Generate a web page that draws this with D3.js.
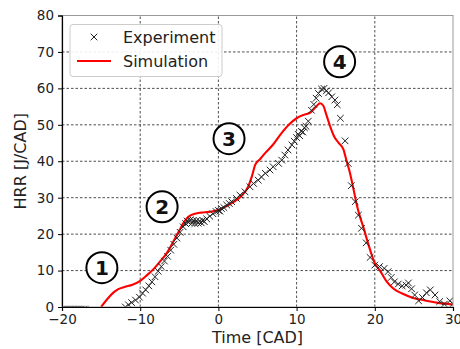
<!DOCTYPE html>
<html>
<head>
<meta charset="utf-8">
<script src="https://cdn.jsdelivr.net/npm/d3@7"></script>
<style>
  html, body { margin: 0; padding: 0; background: #fff; }
  svg { display: block; font-family: "DejaVu Sans", sans-serif; }
</style>
</head>
<body>
<svg id="chart" width="460" height="349"></svg>
<script>
// simulated HRR [CAD, J/CAD]
const simulation = [
  [-15, 0], [-14.2, 2.2], [-13.4, 4.0], [-12.8, 4.9], [-12, 5.5], [-11, 6.1], [-10, 7.2],
  [-9.2, 8.6], [-8.3, 10.4], [-7.5, 12.4], [-6.6, 14.8], [-5.8, 17.8], [-5, 21], [-4.4, 23.3],
  [-3.8, 24.8], [-3, 25.6], [-2.2, 25.9], [-1.2, 26.1], [0, 26.6], [1, 27.6], [2, 28.9],
  [3, 30.6], [3.8, 33], [4.3, 36], [4.7, 39], [5.3, 40.5], [6, 42.3], [7, 44.6], [8, 47.5],
  [9, 50], [10, 51.8], [11, 52.8], [11.8, 53.4], [12.5, 55], [13, 55.9], [13.4, 55.3],
  [13.8, 52.8], [14.3, 49.5], [14.8, 46.8], [15.4, 45], [16, 43.2], [16.4, 40], [16.8, 37],
  [17.3, 32.1], [17.7, 28], [18.1, 24.8], [18.6, 21.5], [19, 18.5], [19.5, 15], [20, 12],
  [20.6, 10.2], [21.5, 7], [22.4, 5], [23.5, 3.7], [24.9, 2.5], [26.2, 1.9], [27.9, 1.2], [30, 0.7]
];

// measured HRR
const experiment = [
  [-20, -0.6], [-19.8, -0.6], [-19.6, -0.6], [-19.4, -0.6], [-19.2, -0.6], [-19, -0.6], [-18.8, -0.6],
  [-18.6, -0.6], [-18.4, -0.6], [-18.2, -0.6], [-18, -0.6], [-17.8, -0.6], [-17.6, -0.6], [-17.4, -0.6],
  [-17.2, -0.6], [-17, -0.6],
  [-11.9, 0], [-11.5, 0.6], [-11.1, 1.2], [-10.6, 1.9], [-10.1, 2.7], [-9.7, 3.8], [-9.3, 4.7],
  [-8.9, 5.8], [-8.5, 6.9], [-8.1, 8.3], [-7.7, 9.8], [-7.3, 11.1], [-6.9, 12.6], [-6.5, 13.9],
  [-6.1, 15.6], [-5.7, 17.2], [-5.3, 18.9], [-4.9, 20.5], [-4.5, 22], [-4.2, 22.9],
  [-4.0, 23.6], [-3.8, 23.2], [-3.6, 23.9], [-3.4, 23.0], [-3.2, 23.8], [-3.0, 22.9], [-2.8, 23.7],
  [-2.6, 23.0], [-2.4, 23.6], [-2.2, 23.1], [-2.0, 23.8], [-1.8, 23.4], [-1.5, 24.2],
  [-1.1, 24.9], [-0.7, 25.6], [-0.3, 26.2], [0, 26.5], [0.2, 26.3], [0.4, 27.0], [0.7, 27.3],
  [1.06, 28], [1.4, 28.4], [1.7, 28.9], [2.3, 29.8], [2.76, 30.7], [3.4, 31.6], [4.04, 33],
  [4.5, 33.9], [5.1, 34.8], [5.5, 35.7], [6.0, 36.7], [6.6, 37.6], [7.0, 38.5], [7.7, 39.4],
  [8.1, 40.3], [8.5, 41.7], [8.9, 43.1], [9.4, 44.5], [9.7, 45.5], [10, 46.5], [10.2, 47.4],
  [10.4, 47.0], [10.6, 48.2], [10.8, 48.0], [11.0, 49.2], [11.2, 49.6], [11.5, 51], [11.9, 54],
  [12.2, 55.6], [12.5, 57.3], [12.8, 58.6], [13.2, 59.8], [13.5, 60], [13.8, 59.3], [14.1, 58.8],
  [14.5, 57.7], [14.9, 56.8], [15.2, 55.5], [15.6, 51.8], [16.2, 45.6], [16.6, 39.4], [17.0, 33.3],
  [17.5, 28.9], [17.9, 25.2], [18.3, 21.6], [18.9, 17.6], [19.4, 13.6], [20.0, 11.5], [20.6, 11.1],
  [21.2, 10.6], [21.7, 9.7], [22.1, 8.1], [22.5, 6.9], [23.0, 6.3], [23.5, 5.8], [24.0, 6.0],
  [24.3, 6.6], [24.7, 5.0], [25.1, 3.3], [25.6, 1.7], [26.1, 2.6], [26.6, 3.9], [27.1, 4.7],
  [27.7, 3.3], [28.3, 1.5], [28.9, 0.8], [29.6, 1.7], [30, 0.9]
];

// combustion phase markers
const phases = [
  { label: '1', t: -14.9, v: 10.8 },
  { label: '2', t: -7.2, v: 27.5 },
  { label: '3', t: 1.36, v: 46.2 },
  { label: '4', t: 15.5, v: 67.3 }
];

const xTicks = [-20, -10, 0, 10, 20, 30];
const yTicks = [0, 10, 20, 30, 40, 50, 60, 70, 80];

const m = { l: 62, r: 7, t: 15.5, b: 42 };
const W = 460, H = 349;
const svg = d3.select('#chart');

const x = d3.scaleLinear().domain([-20, 30]).range([m.l, W - m.r]);
const y = d3.scaleLinear().domain([0, 80]).range([H - m.b, m.t]);

// grid
const grid = svg.append('g').attr('stroke', '#222').attr('stroke-width', 0.8).attr('stroke-dasharray', '2.5,2');
grid.selectAll('.gx').data(xTicks.slice(1, -1)).join('line')
  .attr('x1', d => x(d)).attr('x2', d => x(d)).attr('y1', y(0)).attr('y2', y(80));
grid.selectAll('.gy').data(yTicks.slice(1, -1)).join('line')
  .attr('x1', x(-20)).attr('x2', x(30)).attr('y1', d => y(d)).attr('y2', d => y(d));

// markers are clipped to the axes box
svg.append('clipPath').attr('id', 'clip').append('rect')
  .attr('x', x(-20)).attr('y', y(80)).attr('width', x(30) - x(-20)).attr('height', y(0) - y(80));

const plot = svg.append('g').attr('clip-path', 'url(#clip)');

const line = d3.line().x(d => x(d[0])).y(d => y(d[1])).curve(d3.curveMonotoneX);
plot.append('path').datum(simulation)
  .attr('fill', 'none').attr('stroke', '#ff0000').attr('stroke-width', 2.1).attr('d', line);

const s = 3.3;
const xPath = `M${-s},${-s}L${s},${s}M${-s},${s}L${s},${-s}`;
plot.append('g').selectAll('path').data(experiment).join('path')
  .attr('transform', d => `translate(${x(d[0])},${y(d[1])})`)
  .attr('d', xPath).attr('stroke', '#222').attr('stroke-width', 1).attr('fill', 'none');

// frame
svg.append('rect').attr('x', x(-20)).attr('y', y(80)).attr('width', x(30) - x(-20)).attr('height', y(0) - y(80))
  .attr('fill', 'none').attr('stroke', '#999').attr('stroke-width', 1);

const xAxis = svg.append('g').attr('transform', `translate(0,${y(0)})`)
  .call(d3.axisBottom(x).tickValues(xTicks).tickSizeOuter(0).tickSize(4).tickPadding(3));
const yAxis = svg.append('g').attr('transform', `translate(${x(-20)},0)`)
  .call(d3.axisLeft(y).tickValues(yTicks).tickSizeOuter(0).tickSize(4).tickPadding(4));
[xAxis, yAxis].forEach(a => {
  a.select('.domain').attr('stroke', '#000').attr('stroke-width', 1.2);
  a.selectAll('.tick line').attr('stroke', '#000');
  a.selectAll('.tick text').attr('font-size', 13.5).attr('fill', '#222').attr('font-family', '"DejaVu Sans", sans-serif');
});

svg.append('text').attr('x', (x(-20) + x(30)) / 2).attr('y', 343).attr('text-anchor', 'middle')
  .attr('font-size', 16).attr('fill', '#222').text('Time [CAD]');
svg.append('text').attr('transform', `translate(26,${(y(0) + y(80)) / 2}) rotate(-90)`).attr('text-anchor', 'middle')
  .attr('font-size', 16).attr('fill', '#222').text('HRR [J/CAD]');

// circled labels
const ph = svg.append('g').selectAll('g').data(phases).join('g')
  .attr('transform', d => `translate(${x(d.t)},${y(d.v)})`);
ph.append('circle').attr('r', 15.5).attr('fill', '#fff').attr('stroke', '#000').attr('stroke-width', 2);
ph.append('text').attr('text-anchor', 'middle').attr('dy', '0.36em').attr('font-size', 20)
  .attr('font-weight', 'bold').attr('fill', '#111').text(d => d.label);

// legend
const lg = svg.append('g');
lg.append('rect').attr('x', 70).attr('y', 24.5).attr('width', 152).attr('height', 52).attr('rx', 3)
  .attr('fill', '#fff').attr('fill-opacity', 0.9).attr('stroke', '#ccc');
lg.append('path').attr('transform', 'translate(94,37)').attr('d', xPath).attr('stroke', '#222').attr('fill', 'none');
lg.append('line').attr('x1', 77).attr('x2', 111).attr('y1', 61).attr('y2', 61).attr('stroke', '#ff0000').attr('stroke-width', 2);
lg.append('text').attr('x', 123).attr('y', 43).attr('font-size', 16).attr('fill', '#222').text('Experiment');
lg.append('text').attr('x', 123).attr('y', 67).attr('font-size', 16).attr('fill', '#222').text('Simulation');
</script>
</body>
</html>
